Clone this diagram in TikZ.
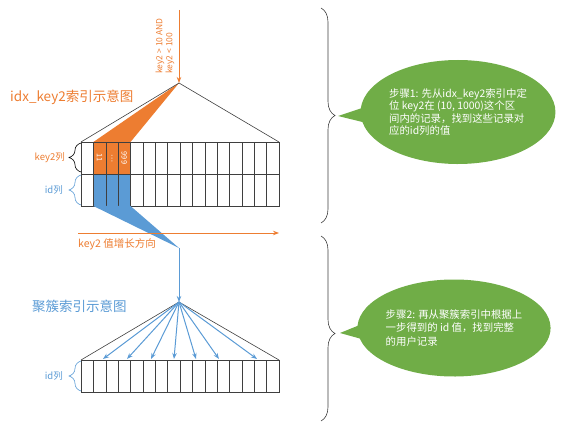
\documentclass[tikz,border=0pt]{standalone}
\usepackage{fontspec}
\setmainfont{Noto Sans CJK SC}
\usepackage{tikz}
\usetikzlibrary{shapes.geometric, shapes.callouts, arrows.meta, calc, decorations.pathreplacing}
\definecolor{idxorange}{HTML}{ED7D31}
\definecolor{idxblue}{HTML}{5B9BD5}
\definecolor{stepgreen}{HTML}{70AD47}
\definecolor{gridgray}{HTML}{3F3F3F}

\begin{document}
\begin{tikzpicture}[x=1pt,y=-1pt,
every node/.style={inner sep=0pt},
cell/.style={draw=gridgray, line width=0.5pt, minimum width=12.375pt, minimum height=32pt, outer sep=0pt},
title/.style={font=\fontsize{13.5}{16}\selectfont},
side label/.style={font=\fontsize{9.5}{11}\selectfont, anchor=east},
orange arrow/.style={draw=idxorange, line width=1pt, -{Stealth[length=6pt,width=4.5pt]}},
blue arrow/.style={draw=idxblue, line width=1pt, -{Stealth[length=6pt,width=4.5pt]}},
lbrace/.style={draw, line width=0.6pt, decorate, decoration={brace, amplitude=12pt}},
rbrace/.style={draw=gridgray, line width=0.6pt, decorate, decoration={brace, amplitude=14pt}},
step bubble/.style={ellipse callout, fill=stepgreen, text=white, align=left,
  font=\fontsize{10.4}{12.6}\selectfont}]
\useasboundingbox (0,0) rectangle (562,422);

% key points
\coordinate (qtop) at (179,10);
\coordinate (apex1) at (179,83);
\coordinate (bluetip) at (179,248);
\coordinate (apex2) at (179,302);

% idx_key2 index: two rows of 16 cells
\foreach \i in {1,...,16}
{
\node [cell] (k\i) at ({81+12.375*(\i-0.5)},158) {};
\node [cell] (i\i) at ({81+12.375*(\i-0.5)},190) {};
}
\foreach \i in {2,3,4}
{
\filldraw [fill=idxorange, draw=gridgray, line width=0.5pt] (k\i.north west) rectangle (k\i.south east);
\filldraw [fill=idxblue, draw=gridgray, line width=0.5pt] (i\i.north west) rectangle (i\i.south east);
}
\foreach \i/\val in {2/11,3/\ldots,4/999}
\node [rotate=-90, text=white, font=\fontsize{7.5}{8}\selectfont] (v\i) at (k\i) {\val};

% tree above the index
\fill [idxorange] (apex1) -- (k2.north west) -- (k4.north east) -- cycle;
\draw [gridgray, line width=0.6pt] (k1.north west) -- (apex1) -- (k16.north east);
\fill [idxblue] (i2.south west) -- (i4.south east) -- (bluetip) -- cycle;

% query
\draw [orange arrow] (qtop) -- (apex1);
\node [rotate=90, align=left, text=idxorange, font=\fontsize{8.5}{10}\selectfont] (query) at (165,46) {key2 > 10 AND\\key2 < 100};

\node [title, text=idxorange, anchor=west] (title1) at (10,97) {idx\_key2索引示意图};
\draw [lbrace] (81,172) -- (81,143);
\node [side label, text=idxorange] (keycol) at (65,158) {key2列};
\draw [lbrace, idxblue] (81,205) -- (81,175);
\node [side label, text=idxblue] (idcol1) at (63,190) {id列};

% growth direction
\coordinate (growL) at (78,233);
\coordinate (growR) at (279,233);
\draw [orange arrow] (growL) -- (growR);
\node [text=idxorange, anchor=west, font=\fontsize{10.5}{12}\selectfont] (grow) at (78,244) {key2 值增长方向};

% clustered index
\draw [blue arrow] (bluetip) -- (apex2);
\foreach \i in {1,...,16}
\node [cell] (c\i) at ({81+12.375*(\i-0.5)},376) {};
\draw [gridgray, line width=0.6pt] (c1.north west) -- (apex2) -- (c16.north east);
\foreach \x [count=\n] in {103,127,151,174,196,219,257}
{
\coordinate (hit\n) at (\x,359);
\draw [blue arrow] (apex2) -- (hit\n);
}
\node [title, text=idxblue, anchor=west] (title2) at (32,306) {聚簇索引示意图};
\draw [lbrace, idxblue] (81,391) -- (81,361);
\node [side label, text=idxblue] (idcol2) at (63,376) {id列};

% steps
\draw [rbrace] (321,8) -- (321,223);
\draw [rbrace, decoration={aspect=0.527}] (321,236) -- (321,421);
\coordinate (tip1) at (338,116);
\coordinate (tip2) at (340,333);
\node [step bubble, minimum width=194pt, minimum height=104pt, callout absolute pointer={(tip1)}] (step1) at (458,112)
{步骤1: 先从idx\_key2索引中定\\位 key2在 (10, 1000)这个区\\间内的记录，找到这些记录对\\应的id列的值};
\node [step bubble, minimum width=184pt, minimum height=97pt, callout absolute pointer={(tip2)}, font=\fontsize{10.4}{13.5}\selectfont] (step2) at (454,328)
{步骤2: 再从聚簇索引中根据上\\一步得到的 id 值，找到完整\\的用户记录};
\end{tikzpicture}
\end{document}
